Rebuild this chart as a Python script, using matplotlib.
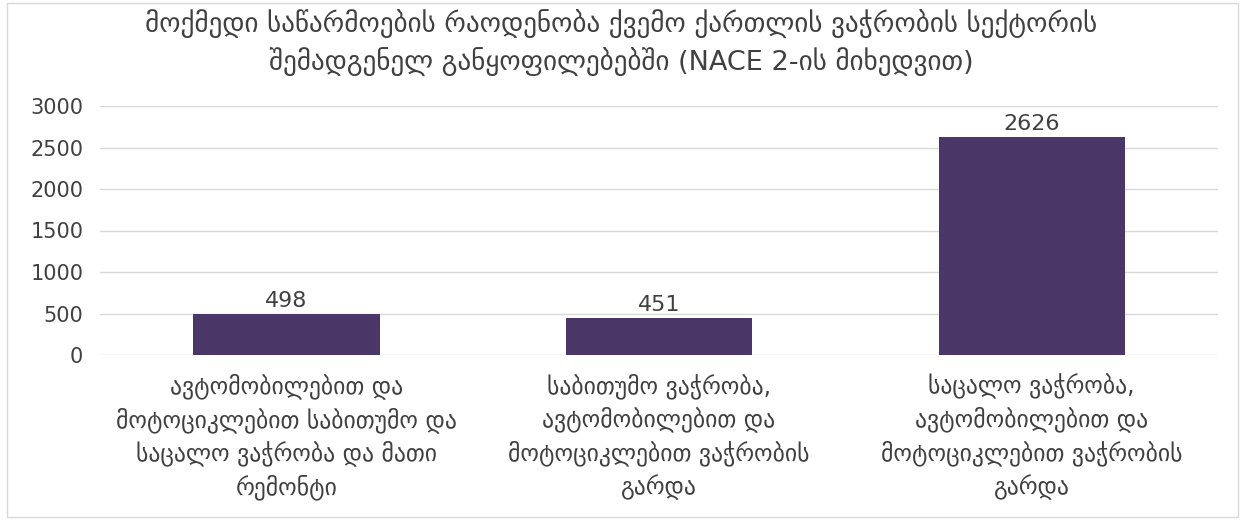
import matplotlib
matplotlib.use("Agg")
import matplotlib.pyplot as plt
from matplotlib.patches import Rectangle

plt.rcParams['font.family'] = ['DejaVu Sans']

title = "მოქმედი საწარმოების რაოდენობა ქვემო ქართლის ვაჭრობის სექტორის\nშემადგენელ განყოფილებებში (NACE 2-ის მიხედვით)"
categories = [
    "ავტომობილებით და\nმოტოციკლებით საბითუმო და\nსაცალო ვაჭრობა და მათი\nრემონტი",
    "საბითუმო ვაჭრობა,\nავტომობილებით და\nმოტოციკლებით ვაჭრობის\nგარდა",
    "საცალო ვაჭრობა,\nავტომობილებით და\nმოტოციკლებით ვაჭრობის\nგარდა",
]
values = [498, 451, 2626]
yticks = [0, 500, 1000, 1500, 2000, 2500, 3000]

bar_color = "#4a3768"
text_color = "#404040"

fig = plt.figure(figsize=(12.43, 5.22), dpi=100)
fig.patches.append(Rectangle((0.006, 0.01), 0.99, 0.985, transform=fig.transFigure,
                             fill=False, edgecolor="#d9d9d9", linewidth=1))
ax = fig.add_axes([100/1243, 1-355/522, 1118/1243, (355-106)/522])

x = list(range(len(values)))
ax.bar(x, values, width=0.5, color=bar_color, zorder=3)
for xi, v in zip(x, values):
    ax.text(xi, v + 35, str(v), ha="center", va="bottom", fontsize=16, color=text_color)

ax.set_xlim(-0.5, len(values) - 0.5)
ax.set_ylim(0, 3000)
ax.set_yticks(yticks)
ax.set_yticklabels([str(t) for t in yticks], fontsize=15, color=text_color)
ax.set_xticks(x)
ax.set_xticklabels(categories, fontsize=17, color=text_color, linespacing=1.4)
ax.tick_params(axis="both", length=0)
ax.tick_params(axis="y", pad=12)
ax.tick_params(axis="x", pad=13)
ax.grid(axis="y", color="#d9d9d9", linewidth=1, zorder=0)
for s in ax.spines.values():
    s.set_visible(False)

fig.text(0.5, 1 - 43.5/522, title, ha="center", va="center", fontsize=19.5,
         color=text_color, linespacing=1.4)

fig.savefig("out.png", dpi=100)
